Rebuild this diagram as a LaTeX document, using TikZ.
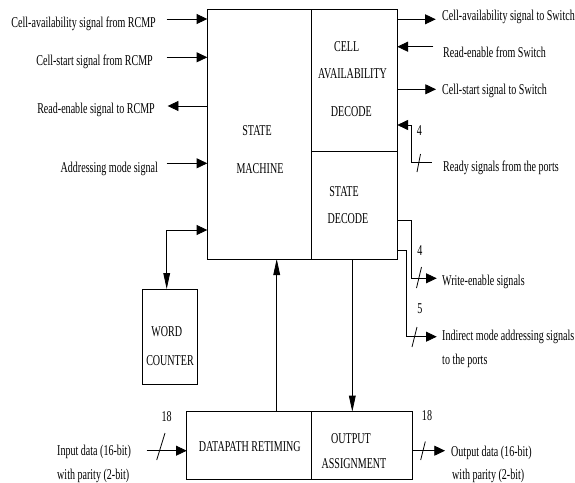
\documentclass[tikz,border=0pt]{standalone}
\usepackage{fontspec}
\setmainfont{Liberation Serif}[FakeStretch=0.67]
\usetikzlibrary{arrows.meta}

\tikzset{
  blk/.style={draw, line width=0.8pt, inner sep=0pt, outer sep=0pt},
  harr/.style={-{Triangle[length=10.7pt,width=10pt]}, line width=0.8pt},
  varr/.style={-{Triangle[length=16pt,width=6.7pt]}, line width=0.8pt},
  bus/.style={line width=0.8pt},
}

\begin{document}
\begin{tikzpicture}[x=1pt, y=-1pt, every node/.append style={font=\fontsize{15}{18}\selectfont, inner sep=0pt}]
    \useasboundingbox (0,0) rectangle (575,482);

    % blocks
    \node[blk, minimum width=104.4pt, minimum height=249.5pt] (sm) at (259.5,134.25) {};
    \node[blk, minimum width=85.6pt, minimum height=141.5pt] (cad) at (354.5,80.25) {};
    \node[blk, minimum width=85.6pt, minimum height=108pt] (sd) at (354.5,205) {};
    \node[blk, minimum width=55pt, minimum height=95pt] (wc) at (169.5,336.5) {};
    \node[blk, minimum width=125pt, minimum height=67.6pt] (dr) at (249.2,445.5) {};
    \node[blk, minimum width=100.6pt, minimum height=67.6pt] (oa) at (362,445.5) {};

    \node[anchor=base] (sm1) at (257,135) {STATE};
    \node[anchor=base] (sm2) at (260,173) {MACHINE};
    \node[anchor=base] (cad1) at (346.7,51.7) {CELL};
    \node[anchor=base] (cad2) at (352.5,78.3) {AVAILABILITY};
    \node[anchor=base] (cad3) at (351.3,116.7) {DECODE};
    \node[anchor=base] (sd1) at (344,196) {STATE};
    \node[anchor=base] (sd2) at (348,223) {DECODE};
    \node[anchor=base] (wc1) at (166.7,336.7) {WORD};
    \node[anchor=base] (wc2) at (170,365) {COUNTER};
    \node[anchor=base] (dr1) at (249.7,451.7) {DATAPATH RETIMING};
    \node[anchor=base] (oa1) at (351,443.3) {OUTPUT};
    \node[anchor=base] (oa2) at (354,468.3) {ASSIGNMENT};

    % signal labels
    \node[anchor=base east] (lcav) at (156,27) {Cell-availability signal from RCMP};
    \node[anchor=base east] (lcst) at (153,65) {Cell-start signal from RCMP};
    \node[anchor=base east] (lren) at (155,113) {Read-enable signal to RCMP};
    \node[anchor=base east] (ladr) at (158,172) {Addressing mode signal};
    \node[anchor=base west] (lin1) at (57,455) {Input data (16-bit)};
    \node[anchor=base west] (lin2) at (57,479) {with parity (2-bit)};

    \node[anchor=base west] (rcav) at (442,20) {Cell-availability signal to Switch};
    \node[anchor=base west] (rren) at (443,57) {Read-enable from Switch};
    \node[anchor=base west] (rcst) at (442,94) {Cell-start signal to Switch};
    \node[anchor=base west] (rrdy) at (443,171) {Ready signals from the ports};
    \node[anchor=base west] (rwen) at (442,285) {Write-enable signals};
    \node[anchor=base west] (rind1) at (442,340) {Indirect mode addressing signals};
    \node[anchor=base west] (rind2) at (442,364) {to the ports};
    \node[anchor=base west] (rout1) at (451,456) {Output data (16-bit)};
    \node[anchor=base west] (rout2) at (452,479) {with parity (2-bit)};

    \node[anchor=base] (nrdy) at (419.5,135) {4};
    \node[anchor=base] (nwen) at (420,255) {4};
    \node[anchor=base] (nind) at (420,313) {5};
    \node[anchor=base] (nin) at (166.7,421.7) {18};
    \node[anchor=base] (nout) at (427,420.7) {18};

    % free ends and bends
    \coordinate (lcav-c) at (166.7,19);
    \coordinate (lcst-c) at (166.7,57.3);
    \coordinate (lren-c) at (167.7,106);
    \coordinate (ladr-c) at (166.7,163.3);
    \coordinate (wc-c) at (166.7,230);
    \coordinate (rcav-c) at (435.7,19.3);
    \coordinate (rren-c) at (433.3,46.7);
    \coordinate (rcst-c) at (436,89.3);
    \coordinate (rdy-c) at (431.7,162.7);
    \coordinate (rdy-b) at (411.7,125);
    \coordinate (wen-b) at (411.7,220);
    \coordinate (wen-c) at (436.7,278.3);
    \coordinate (ind-b) at (406.7,250);
    \coordinate (ind-c) at (436.7,336.7);
    \coordinate (din-c) at (146.7,450.7);
    \coordinate (dout-c) at (445,450.7);
    \coordinate (up-x) at (276.7,0);
    \coordinate (dn-x) at (352.3,0);

    \draw[harr] (lcav-c) -- (lcav-c -| sm.west);
    \draw[harr] (lcst-c) -- (lcst-c -| sm.west);
    \draw[harr] (lren-c -| sm.west) -- (lren-c);
    \draw[harr] (ladr-c) -- (ladr-c -| sm.west);
    \draw[{Triangle[length=10.7pt,width=10pt]}-{Triangle[length=16pt,width=6.7pt]}, line width=0.8pt]
        (wc-c -| sm.west) -- (wc-c) -- (wc-c |- wc.north);

    \draw[harr] (rcav-c -| cad.east) -- (rcav-c);
    \draw[harr] (rren-c) -- (rren-c -| cad.east);
    \draw[harr] (rcst-c -| cad.east) -- (rcst-c);
    \draw[harr] (rdy-c) -| (rdy-b) -- (rdy-b -| cad.east);
    \draw[harr] (wen-b -| sd.east) -- (wen-b) |- (wen-c);
    \draw[harr] (ind-b -| sd.east) -- (ind-b) |- (ind-c);

    \draw[varr] (up-x |- dr.north) -- (up-x |- sm.south);
    \draw[varr] (dn-x |- sd.south) -- (dn-x |- oa.north);
    \draw[harr] (din-c) -- (din-c -| dr.west);
    \draw[harr] (dout-c -| oa.east) -- (dout-c);

    % bus width marks
    \draw[bus] (420.5,154) -- (417,172);
    \draw[bus] (421.5,267) -- (416.5,288);
    \draw[bus] (417,327) -- (412,347);
    \draw[bus] (165,433) -- (156.7,460);
    \draw[bus] (425.3,441.5) -- (420.7,460);
\end{tikzpicture}
\end{document}
